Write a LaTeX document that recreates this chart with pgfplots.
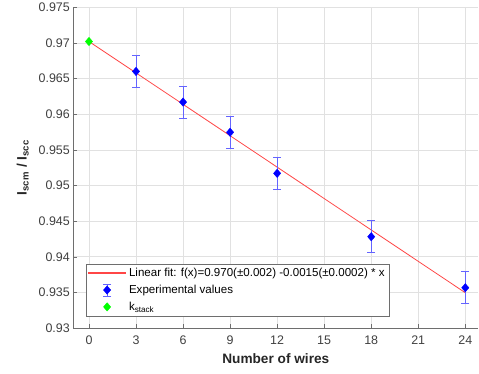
\documentclass[border=0pt]{standalone}
\usepackage{pgfplots}
\pgfplotsset{compat=1.18}
\usepackage{fontspec}
\setmainfont{Liberation Sans}
\definecolor{gridc}{RGB}{225,225,225}
\definecolor{axc}{RGB}{110,110,110}
\definecolor{txtc}{RGB}{64,64,64}
\definecolor{fitred}{RGB}{255,70,70}
\definecolor{ebc}{RGB}{100,100,255}
\pgfplotsset{
  fitleg/.style={legend image code/.code={\fill[fitred] (-1bp,-0.45bp) rectangle (36bp,0.45bp);}},
  expleg/.style={legend image code/.code={
    \draw[draw=ebc, line width=1bp] (17.5bp,-6bp)--(17.5bp,6bp)
      (13.5bp,-6bp)--(21.5bp,-6bp) (13.5bp,6bp)--(21.5bp,6bp);
    \draw[##1] plot coordinates {(17.5bp,0bp)};}},
  kleg/.style={legend image code/.code={\draw[##1] plot coordinates {(17.5bp,0bp)};}},
}
\begin{document}
\begin{tikzpicture}
\path[use as bounding box] (-73.3bp,-46bp) rectangle (405.7bp,328bp);
\begin{axis}[
  at={(0,0)}, anchor=south west,
  scale only axis, width=405bp, height=320.7bp,
  xmin=-1, xmax=24.83, ymin=0.93, ymax=0.975,
  axis x line*=bottom, axis y line*=left,
  axis line style={axc, -},
  xtick={0,3,...,24},
  ytick={0.93,0.935,0.94,0.945,0.95,0.955,0.96,0.965,0.97,0.975},
  scaled y ticks=false,
  yticklabel style={/pgf/number format/fixed, /pgf/number format/precision=3},
  xticklabel style={yshift=-4bp},
  /pgf/number format/assume math mode=true,
  tick align=inside, major tick length=3.5bp,
  tick style={axc},
  ticklabel style={font=\fontsize{12.5}{14}\selectfont, text=txtc},
  grid=major, major grid style={gridc, line width=0.5pt},
  xlabel={\bfseries Number of wires},
  ylabel={\bfseries I\textsubscript{scm} / I\textsubscript{scc}},
  label style={font=\fontsize{13.7}{16}\selectfont, text=black!85},
  xlabel style={yshift=-2bp},
  ylabel style={yshift=3bp},
  legend cell align=left,
  legend style={at={(0.0314,0.0374)}, anchor=south west, draw=axc, fill=white,
    font=\fontsize{11.6}{13}\selectfont, row sep=3bp, inner sep=2bp,
    nodes={inner xsep=3bp}},
]
\addplot[draw=fitred, line width=0.8bp, no marks, fitleg]
  coordinates {(0,0.9702) (24,0.93495)};
\addlegendentry{Linear fit: f(x)=0.970(±0.002) -0.0015(±0.0002) * x}
\addplot[draw=blue, fill=blue, only marks, mark=diamond*, mark size=4.2bp,
  mark options={draw=blue, fill=blue, xscale=1.15}, expleg,
  error bars/.cd, y dir=both, y explicit,
  error bar style={draw=ebc, line width=1bp},
  error mark options={draw=ebc, rotate=90, mark size=4bp, line width=1bp}]
  coordinates {
  (3,0.9660) +- (0,0.00225)
  (6,0.9617) +- (0,0.00225)
  (9,0.95746) +- (0,0.00225)
  (12,0.9517) +- (0,0.00225)
  (18,0.94281) +- (0,0.00225)
  (24,0.93565) +- (0,0.00225)
  };
\addlegendentry{Experimental values}
\addplot[draw=green, fill=green, only marks, mark=diamond*, mark size=4.2bp,
  mark options={draw=green, fill=green, xscale=1.15}, kleg]
  coordinates {(0,0.9702)};
\addlegendentry{k\textsubscript{stack}}
\end{axis}
\end{tikzpicture}
\end{document}
